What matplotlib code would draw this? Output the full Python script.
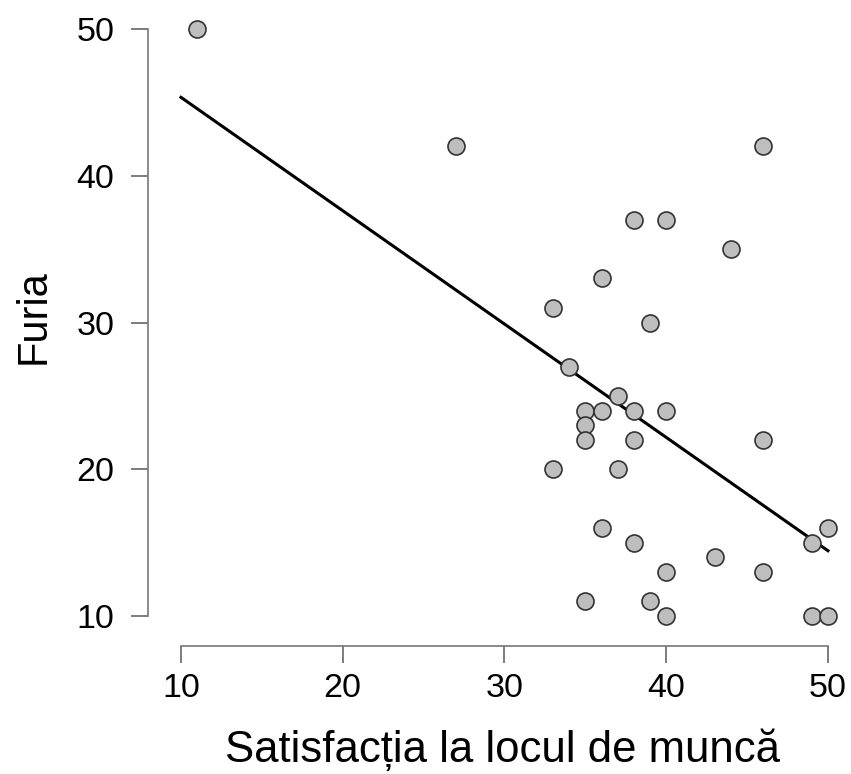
import numpy as np
import matplotlib
matplotlib.use('Agg')
import matplotlib.pyplot as plt

# satisfaction at work (x) vs anger (y)
satisfactie = [11, 27, 46, 38, 40, 44, 36, 33, 39, 34, 37, 35, 36, 38, 40, 35, 35,
               38, 46, 33, 37, 36, 50, 38, 49, 43, 40, 46, 35, 39, 40, 49, 50]
furie = [50, 42, 42, 37, 37, 35, 33, 31, 30, 27, 25, 24, 24, 24, 24, 23, 22,
         22, 22, 20, 20, 16, 16, 15, 15, 14, 13, 13, 11, 11, 10, 10, 10]
ticks = [10, 20, 30, 40, 50]

plt.rcParams['font.family'] = ['Liberation Sans', 'DejaVu Sans']

x = np.array(satisfactie, dtype=float)
y = np.array(furie, dtype=float)

fig = plt.figure(figsize=(8.51, 7.74), dpi=100)
ax = fig.add_axes([148 / 851, 1 - 646 / 774, 701 / 851, 640.5 / 774])

# least squares line over the range of the ticks
slope, intercept = np.polyfit(x, y, 1)
xl = np.array([ticks[0], ticks[-1]], dtype=float)
ax.plot(xl, intercept + slope * xl, color='black', lw=2.2, zorder=2)

ax.scatter(x, y, s=150, facecolor='#bebebe', edgecolor='#333333',
           linewidth=1.2, zorder=3, clip_on=False)

ax.set_xlim(7.96, 51.3)
ax.set_ylim(7.96, 51.6)

for side in ['top', 'right']:
    ax.spines[side].set_visible(False)
for side in ['left', 'bottom']:
    ax.spines[side].set_bounds(ticks[0], ticks[-1])
    ax.spines[side].set_color('#777777')
    ax.spines[side].set_linewidth(1.2)

ax.set_xticks(ticks)
ax.set_yticks(ticks)
ax.tick_params(axis='both', length=12.2, width=1.2, color='#666666',
               labelsize=24.5, labelcolor='black')
ax.tick_params(axis='x', pad=7)
ax.tick_params(axis='y', pad=12)

fig.text(503 / 851, 1 - 762 / 774, 'Satisfacția la locul de muncă',
         fontsize=31.5, ha='center', va='baseline')
fig.text(45 / 851, 1 - 317 / 774, 'Furia', fontsize=30, rotation=90,
         rotation_mode='anchor', ha='center', va='baseline')

fig.savefig('out.png', dpi=100)
